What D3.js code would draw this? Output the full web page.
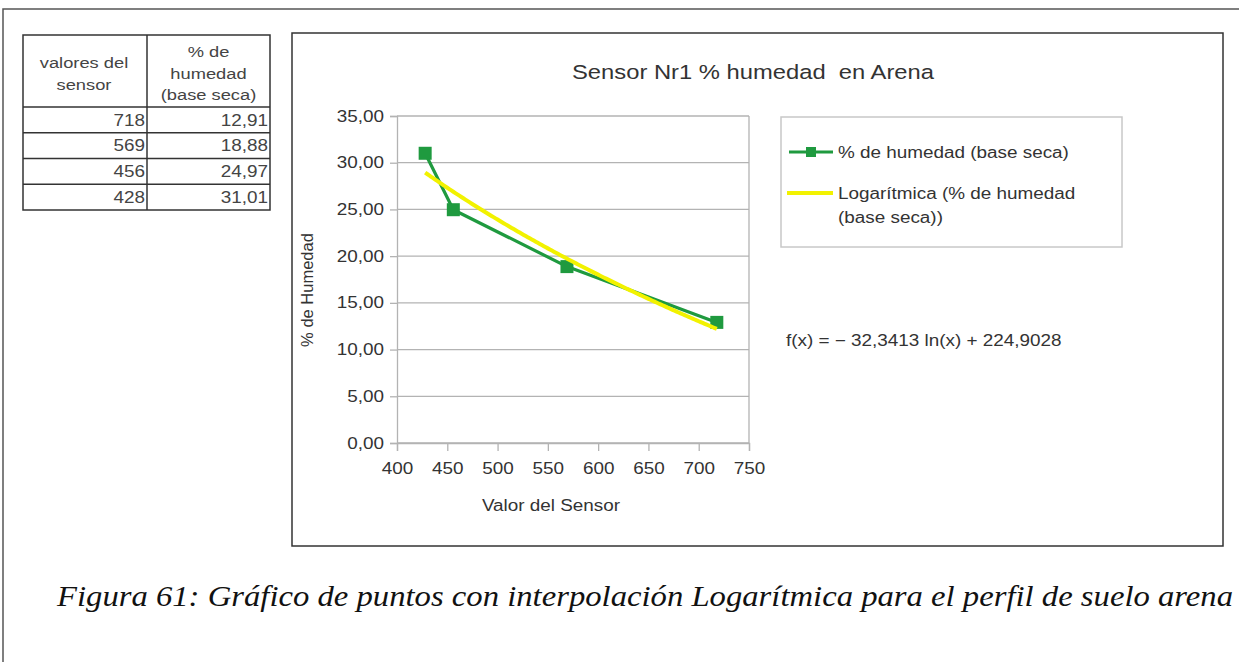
<!DOCTYPE html>
<html>
<head>
<meta charset="utf-8">
<script src="https://cdn.jsdelivr.net/npm/d3@7"></script>
<style>
  html, body { margin: 0; padding: 0; background: #fff; }
  svg { display: block; }
  text { font-family: "Liberation Sans", Arial, sans-serif; fill: #333; white-space: pre; }
</style>
</head>
<body>
<svg id="fig" width="1239" height="662"></svg>
<script>
// Sensor readings and measured moisture (dry basis)
const sensorValues = [718, 569, 456, 428];
const humidity = [12.91, 18.88, 24.97, 31.01];
const tableHeaders = [["valores del", "sensor"], ["% de", "humedad", "(base seca)"]];
const xTicks = [400, 450, 500, 550, 600, 650, 700, 750];
const yTicks = [0, 5, 10, 15, 20, 25, 30, 35];
// Logarithmic trend: f(x) = a ln(x) + b
const trendA = -32.3413;
const trendB = 224.9028;
const chartTitle = "Sensor Nr1 % humedad  en Arena";
const xTitle = "Valor del Sensor";
const yTitle = "% de Humedad";
const seriesName = "% de humedad (base seca)";
const trendNameLines = ["Logarítmica (% de humedad", "(base seca))"];
const caption = "Figura 61: Gráfico de puntos con interpolación Logarítmica para el perfil de suelo arena";

const es = d3.formatLocale({decimal: ",", thousands: ".", grouping: [3], currency: ["", " €"]});
const f2 = es.format(".2f");
const f4 = es.format(".4f");

const svg = d3.select("#fig");
const GREEN = "#1f9a3f";
const YELLOW = "#f2f200";
const GRID = "#b3b3b3";
const WIDEN = 1.18;

// widen glyphs horizontally (the document renders its text slightly wide)
function widen(sel, k = WIDEN) {
  sel.each(function () {
    const len = this.getComputedTextLength();
    d3.select(this).attr("textLength", len * k).attr("lengthAdjust", "spacingAndGlyphs");
  });
  return sel;
}

// page frame
svg.append("path").attr("d", "M3,662 V9 H1239")
  .attr("fill", "none").attr("stroke", "#555").attr("stroke-width", 1.5);

// ---------- data table ----------
const tbl = svg.append("g");
const colX = [23, 147, 270];
const headTop = 35, headBottom = 107, rowH = 25.75;
const tableBottom = headBottom + rowH * sensorValues.length;
tbl.append("rect").attr("x", colX[0]).attr("y", headTop)
  .attr("width", colX[2] - colX[0]).attr("height", tableBottom - headTop)
  .attr("fill", "none").attr("stroke", "#333").attr("stroke-width", 1.5);
tbl.append("line").attr("x1", colX[1]).attr("x2", colX[1])
  .attr("y1", headTop).attr("y2", tableBottom).attr("stroke", "#333").attr("stroke-width", 1.5);
d3.range(sensorValues.length).forEach(i => {
  tbl.append("line").attr("x1", colX[0]).attr("x2", colX[2])
    .attr("y1", headBottom + rowH * i).attr("y2", headBottom + rowH * i)
    .attr("stroke", "#333").attr("stroke-width", 1.5);
});
const headerLineH = 21.5;
tableHeaders.forEach((lines, c) => {
  const cx = (colX[c] + colX[c + 1]) / 2 + (c === 0 ? -1 : 0);
  const mid = 73.5;
  lines.forEach((t, k) => {
    widen(tbl.append("text").attr("x", cx)
      .attr("y", mid + (k - (lines.length - 1) / 2) * headerLineH)
      .attr("dy", "0.35em").attr("text-anchor", "middle")
      .style("font-size", "15.5px").style("fill", "#444").text(t));
  });
});
sensorValues.forEach((v, i) => {
  const yy = headBottom + rowH * (i + 0.5);
  widen(tbl.append("text").attr("x", colX[1] - 2).attr("y", yy).attr("dy", "0.36em")
    .attr("text-anchor", "end").style("font-size", "16px").style("fill", "#444").text(v));
  widen(tbl.append("text").attr("x", colX[2] - 2).attr("y", yy).attr("dy", "0.36em")
    .attr("text-anchor", "end").style("font-size", "16px").style("fill", "#444").text(f2(humidity[i])));
});

// ---------- chart ----------
svg.append("rect").attr("x", 292).attr("y", 33).attr("width", 931).attr("height", 513)
  .attr("fill", "#fff").attr("stroke", "#333").attr("stroke-width", 1.5);

const x = d3.scaleLinear().domain([400, 750]).range([397, 749]);
const y = d3.scaleLinear().domain([0, 35]).range([443, 116]);

svg.append("text").attr("x", 753).attr("y", 72).attr("dy", "0.35em")
  .attr("text-anchor", "middle").style("font-size", "20.5px")
  .attr("textLength", 362).attr("lengthAdjust", "spacingAndGlyphs").text(chartTitle);

// horizontal gridlines
svg.append("g").selectAll("line").data(yTicks).join("line")
  .attr("x1", x(400)).attr("x2", x(750))
  .attr("y1", d => y(d)).attr("y2", d => y(d))
  .attr("stroke", GRID).attr("stroke-width", 1.3);
// right edge of plot area
svg.append("line").attr("x1", x(750)).attr("x2", x(750)).attr("y1", y(35)).attr("y2", y(0))
  .attr("stroke", GRID).attr("stroke-width", 1.3);

const yAxis = svg.append("g").attr("transform", `translate(${x(400)},0)`)
  .call(d3.axisLeft(y).tickValues(yTicks).tickFormat(f2).tickSizeOuter(0).tickSize(7).tickPadding(6));
const xAxis = svg.append("g").attr("transform", `translate(0,${y(0)})`)
  .call(d3.axisBottom(x).tickValues(xTicks).tickSizeOuter(0).tickSize(8).tickPadding(12));
[yAxis, xAxis].forEach(a => {
  a.select(".domain").attr("stroke", GRID).attr("stroke-width", 1.3);
  a.selectAll(".tick line").attr("stroke", GRID).attr("stroke-width", 1.3);
  widen(a.selectAll(".tick text").style("font-size", "16px")
    .style("font-family", "Liberation Sans, Arial, sans-serif").attr("fill", "#333"));
});

widen(svg.append("text").attr("x", 551).attr("y", 505).attr("dy", "0.35em")
  .attr("text-anchor", "middle").style("font-size", "16px").text(xTitle));
svg.append("text").attr("transform", "translate(307,290) rotate(-90)").attr("dy", "0.35em")
  .attr("text-anchor", "middle").style("font-size", "16.5px").text(yTitle);

// measured series, joined in sensor order
const pts = sensorValues.map((v, i) => ({x: v, y: humidity[i]})).sort((a, b) => a.x - b.x);
svg.append("path").datum(pts)
  .attr("d", d3.line().x(d => x(d.x)).y(d => y(d.y)))
  .attr("fill", "none").attr("stroke", GREEN).attr("stroke-width", 3.2).attr("stroke-linejoin", "round");
const ms = 13;
svg.append("g").selectAll("rect").data(pts).join("rect")
  .attr("x", d => x(d.x) - ms / 2).attr("y", d => y(d.y) - ms / 2)
  .attr("width", ms).attr("height", ms).attr("fill", GREEN);

// logarithmic trend over the sensor range
const [xmin, xmax] = d3.extent(sensorValues);
const trendPts = d3.range(xmin, xmax + 0.5, 2).map(v => ({x: v, y: trendA * Math.log(v) + trendB}));
svg.append("path").datum(trendPts)
  .attr("d", d3.line().x(d => x(d.x)).y(d => y(d.y)))
  .attr("fill", "none").attr("stroke", YELLOW).attr("stroke-width", 4).attr("stroke-linecap", "butt");

// legend
svg.append("rect").attr("x", 781).attr("y", 117).attr("width", 341).attr("height", 130)
  .attr("fill", "#fff").attr("stroke", "#c8c8c8").attr("stroke-width", 1.5);
svg.append("line").attr("x1", 789).attr("x2", 833).attr("y1", 152).attr("y2", 152)
  .attr("stroke", GREEN).attr("stroke-width", 3.2);
svg.append("rect").attr("x", 806).attr("y", 147).attr("width", 10).attr("height", 10).attr("fill", GREEN);
widen(svg.append("text").attr("x", 838).attr("y", 152).attr("dy", "0.35em")
  .style("font-size", "16px").text(seriesName));
svg.append("line").attr("x1", 787).attr("x2", 833).attr("y1", 193).attr("y2", 193)
  .attr("stroke", YELLOW).attr("stroke-width", 4);
trendNameLines.forEach((t, k) => {
  widen(svg.append("text").attr("x", 838).attr("y", 193 + k * 24).attr("dy", "0.35em")
    .style("font-size", "16px").text(t));
});

// trend equation
widen(svg.append("text").attr("x", 786).attr("y", 340).attr("dy", "0.35em").style("font-size", "16px")
  .text(`f(x) = \u2212 ${f4(-trendA)} ln(x) + ${f4(trendB)}`));

// caption
svg.append("text").attr("x", 57).attr("y", 596).attr("dy", "0.33em")
  .style("font-family", "Liberation Serif, serif").style("font-style", "italic")
  .style("font-size", "30px").style("fill", "#111")
  .attr("textLength", 1176).attr("lengthAdjust", "spacingAndGlyphs").text(caption);
</script>
</body>
</html>
